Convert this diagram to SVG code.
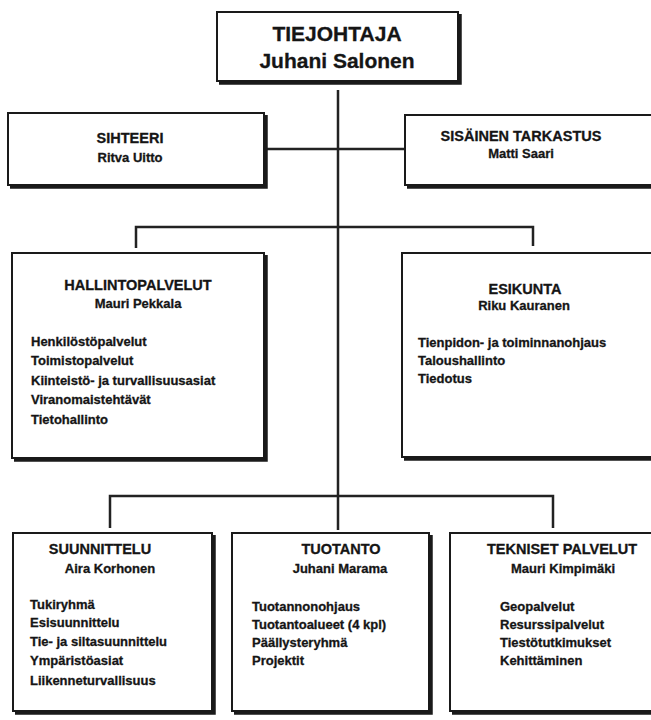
<svg xmlns="http://www.w3.org/2000/svg" width="651" height="720" viewBox="0 0 651 720">
<style>
.box{fill:#fff;stroke:#1a1a1a;stroke-width:2}
.sh{fill:none;stroke:#1a1a1a;stroke-width:3.5}
.ln{fill:none;stroke:#222;stroke-width:2.5}
text{font-family:"Liberation Sans",Arial,sans-serif;font-weight:bold;fill:#151515;stroke:#151515;stroke-width:0.3}
.big{font-size:21px;text-anchor:middle}
.t{font-size:14.5px;text-anchor:middle}
.n{font-size:13px;text-anchor:middle}
.l{font-size:13px}
</style>
<rect width="651" height="720" fill="#fff"/>
<g id="connectors">
<line class="ln" x1="338" y1="90" x2="338" y2="530"/>
<line class="ln" x1="265" y1="149" x2="405" y2="149"/>
<polyline class="ln" points="136,248 136,227 533,227 533,246"/>
<polyline class="ln" points="110,528 110,496 553,496 553,528"/>
</g>
<g id="tiejohtaja">
<rect class="box" x="217" y="12" width="241" height="69"/>
<polyline class="sh" points="219,83 460,83 460,14"/>
<text class="big" x="337" y="41">TIEJOHTAJA</text>
<text class="big" x="337" y="68">Juhani Salonen</text>
</g>
<g id="sihteeri">
<rect class="box" x="8" y="113" width="256" height="72"/>
<polyline class="sh" points="10,187 266,187 266,115"/>
<text class="t" x="130" y="143">SIHTEERI</text>
<text class="n" x="130" y="162">Ritva Uitto</text>
</g>
<g id="sisainen">
<rect class="box" x="405" y="115" width="250" height="70"/>
<polyline class="sh" points="407,187 655,187"/>
<text class="t" x="521" y="141">SISÄINEN TARKASTUS</text>
<text class="n" x="521" y="158">Matti Saari</text>
</g>
<g id="hallintopalvelut">
<rect class="box" x="12" y="253" width="252" height="205"/>
<polyline class="sh" points="14,460 266,460 266,255"/>
<text class="t" x="138" y="290">HALLINTOPALVELUT</text>
<text class="n" x="138" y="308">Mauri Pekkala</text>
<text class="l" x="31" y="346">Henkilöstöpalvelut</text>
<text class="l" x="31" y="365">Toimistopalvelut</text>
<text class="l" x="31" y="385">Kiinteistö- ja turvallisuusasiat</text>
<text class="l" x="31" y="404">Viranomaistehtävät</text>
<text class="l" x="31" y="424">Tietohallinto</text>
</g>
<g id="esikunta">
<rect class="box" x="402" y="253" width="253" height="204"/>
<polyline class="sh" points="404,459 655,459"/>
<text class="t" x="525" y="294">ESIKUNTA</text>
<text class="n" x="524" y="310">Riku Kauranen</text>
<text class="l" x="418" y="347">Tienpidon- ja toiminnanohjaus</text>
<text class="l" x="418" y="365">Taloushallinto</text>
<text class="l" x="418" y="383">Tiedotus</text>
</g>
<g id="suunnittelu">
<rect class="box" x="13" y="533" width="199" height="178"/>
<polyline class="sh" points="15,713 214,713 214,535"/>
<text class="t" x="100" y="554">SUUNNITTELU</text>
<text class="n" x="110" y="573">Aira Korhonen</text>
<text class="l" x="30" y="609">Tukiryhmä</text>
<text class="l" x="30" y="627">Esisuunnittelu</text>
<text class="l" x="30" y="646">Tie- ja siltasuunnittelu</text>
<text class="l" x="30" y="665">Ympäristöasiat</text>
<text class="l" x="30" y="685">Liikenneturvallisuus</text>
</g>
<g id="tuotanto">
<rect class="box" x="232" y="533" width="197" height="178"/>
<polyline class="sh" points="234,713 431,713 431,535"/>
<text class="t" x="341" y="554">TUOTANTO</text>
<text class="n" x="340" y="573">Juhani Marama</text>
<text class="l" x="252" y="611">Tuotannonohjaus</text>
<text class="l" x="252" y="629">Tuotantoalueet (4 kpl)</text>
<text class="l" x="252" y="647">Päällysteryhmä</text>
<text class="l" x="252" y="665">Projektit</text>
</g>
<g id="tekniset">
<rect class="box" x="450" y="533" width="205" height="178"/>
<polyline class="sh" points="452,713 655,713"/>
<text class="t" x="562" y="554">TEKNISET PALVELUT</text>
<text class="n" x="563" y="573">Mauri Kimpimäki</text>
<text class="l" x="500" y="611">Geopalvelut</text>
<text class="l" x="500" y="629">Resurssipalvelut</text>
<text class="l" x="500" y="647">Tiestötutkimukset</text>
<text class="l" x="500" y="665">Kehittäminen</text>
</g>
</svg>
